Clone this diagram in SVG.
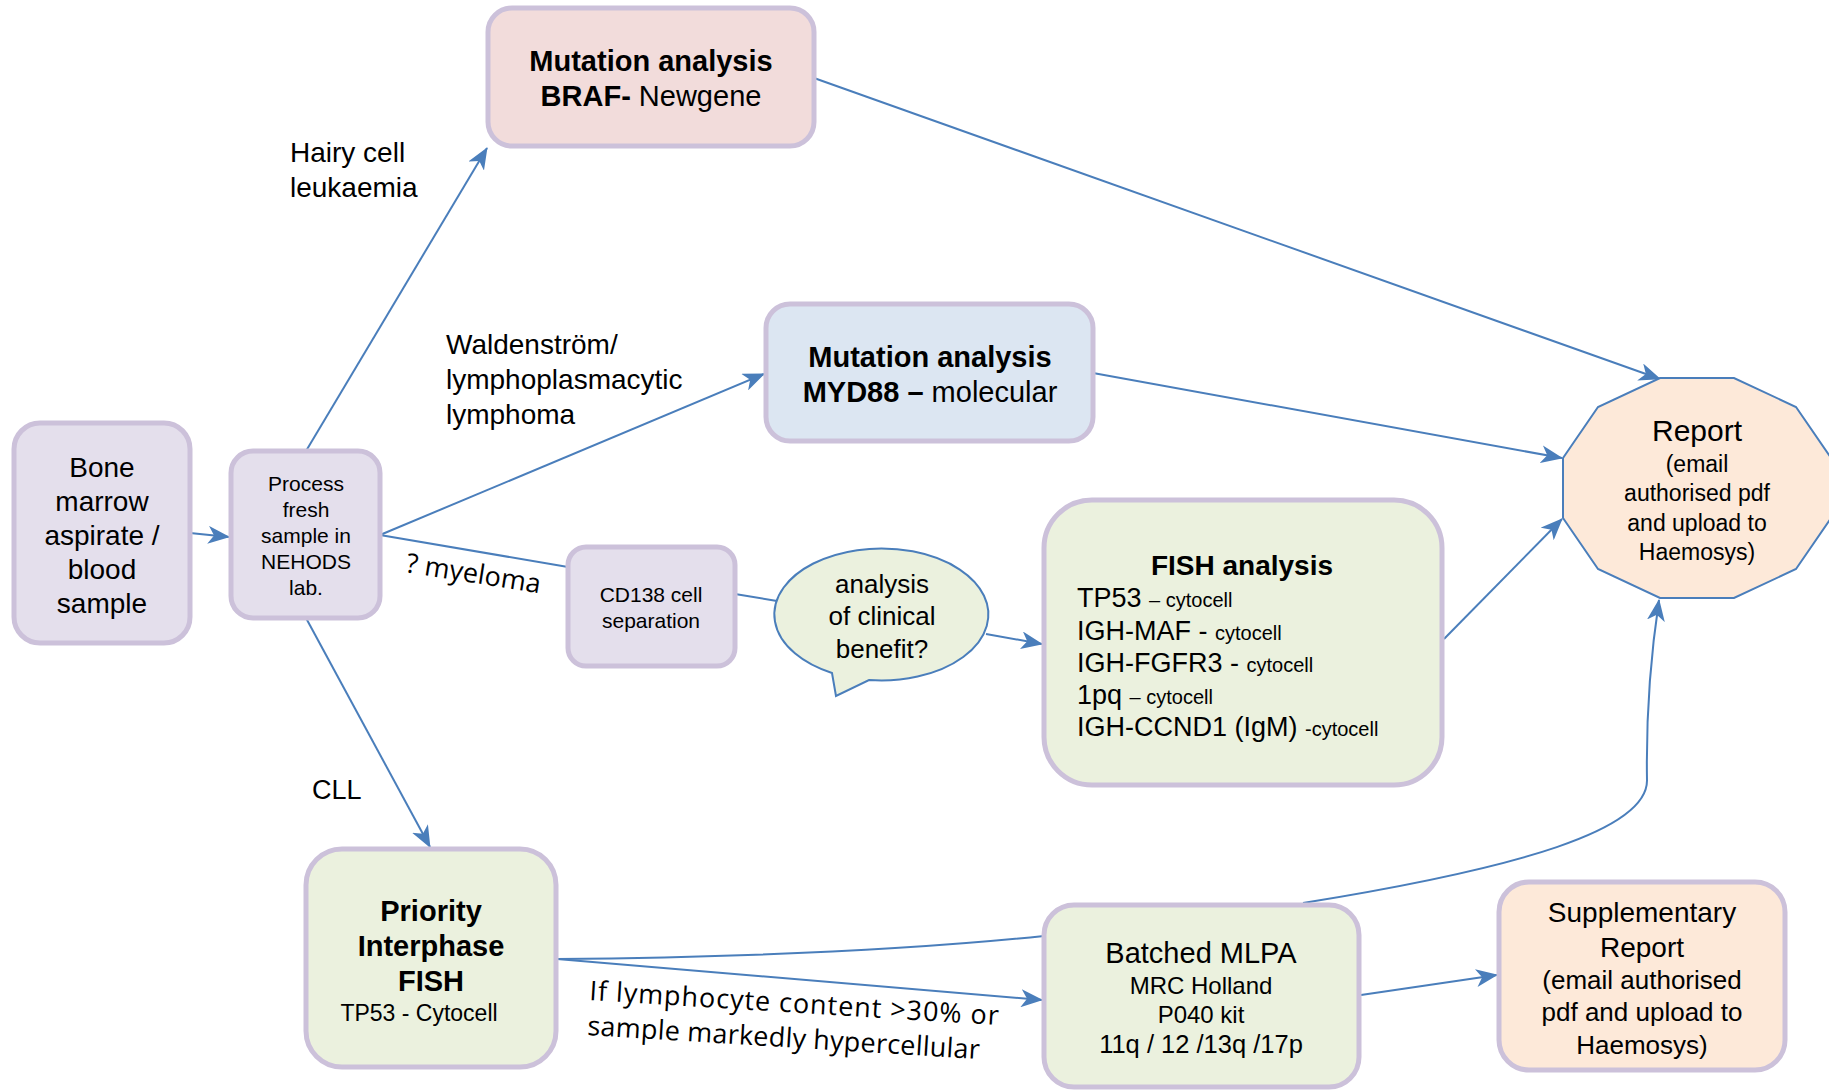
<svg xmlns="http://www.w3.org/2000/svg" width="1829" height="1090" viewBox="0 0 1829 1090">
<defs>
<marker id="arr" viewBox="0 0 22 18" refX="21" refY="9" markerWidth="22" markerHeight="18" markerUnits="userSpaceOnUse" orient="auto">
<path d="M0,0 L22,9 L0,18 L6,9 z" fill="#4a7ebb"/>
</marker>
<style>
.box{stroke:#ccc1da;stroke-width:5}
.lav{fill:#e4dfec}
.pink{fill:#f2dcdb}
.blue{fill:#dce6f2}
.green{fill:#ebf1de}
.peach{fill:#fde9d9}
.t{font-family:"Liberation Sans",Arial,sans-serif;fill:#000}
.o{font-family:"Open Sans","Liberation Sans",sans-serif;fill:#000}
.c{text-anchor:middle}
.b{font-weight:bold}
.ln{fill:none;stroke:#4a7ebb;stroke-width:2}
</style>
</defs>
<rect width="1829" height="1090" fill="#fff"/>
<g id="connectors">
<line class="ln" x1="190" y1="533" x2="229" y2="537" marker-end="url(#arr)"/>
<line class="ln" x1="306" y1="451" x2="487" y2="148" marker-end="url(#arr)"/>
<line class="ln" x1="380" y1="535" x2="764" y2="374" marker-end="url(#arr)"/>
<line class="ln" x1="380" y1="535" x2="568" y2="567"/>
<line class="ln" x1="735" y1="594" x2="777" y2="601"/>
<line class="ln" x1="986" y1="634" x2="1042" y2="644" marker-end="url(#arr)"/>
<line class="ln" x1="306" y1="618" x2="430" y2="847" marker-end="url(#arr)"/>
<line class="ln" x1="814" y1="78" x2="1660" y2="379" marker-end="url(#arr)"/>
<line class="ln" x1="1093" y1="373" x2="1562" y2="458" marker-end="url(#arr)"/>
<line class="ln" x1="1444" y1="639" x2="1562" y2="519" marker-end="url(#arr)"/>
<line class="ln" x1="557" y1="959" x2="1042" y2="1000" marker-end="url(#arr)"/>
<path class="ln" d="M557,959 C760,957 930,948 1044,936"/>
<path class="ln" d="M1303,903 C1520,868 1648,830 1647,780 C1646,720 1650,660 1659,600" marker-end="url(#arr)"/>
<line class="ln" x1="1361" y1="995" x2="1497" y2="975" marker-end="url(#arr)"/>
</g>
<g id="labels">
<text class="t" font-size="28" x="290" y="162">Hairy cell</text>
<text class="t" font-size="28" x="290" y="197">leukaemia</text>
<text class="t" font-size="28" x="446" y="354">Waldenström/</text>
<text class="t" font-size="28" x="446" y="389">lymphoplasmacytic</text>
<text class="t" font-size="28" x="446" y="424">lymphoma</text>
<text class="t" font-size="27" x="312" y="799">CLL</text>
<text class="o" font-size="27" x="405" y="572" transform="rotate(9 405 572)" textLength="136">? myeloma</text>
<text class="o" font-size="27" x="589" y="1000" transform="rotate(3.5 589 1000)" textLength="410">If lymphocyte content &gt;30% or</text>
<text class="o" font-size="27" x="587" y="1035" transform="rotate(3.5 587 1035)" textLength="393">sample markedly hypercellular</text>
</g>
<g id="bone">
<rect class="box lav" x="14" y="423" width="176" height="220" rx="26"/>
<text class="t c" font-size="28" x="102" y="477">Bone</text>
<text class="t c" font-size="28" x="102" y="511">marrow</text>
<text class="t c" font-size="28" x="102" y="545">aspirate /</text>
<text class="t c" font-size="28" x="102" y="579">blood</text>
<text class="t c" font-size="28" x="102" y="613">sample</text>
</g>
<g id="process">
<rect class="box lav" x="231" y="451" width="149" height="167" rx="22"/>
<text class="t c" font-size="21" x="306" y="491">Process</text>
<text class="t c" font-size="21" x="306" y="517">fresh</text>
<text class="t c" font-size="21" x="306" y="543">sample in</text>
<text class="t c" font-size="21" x="306" y="569">NEHODS</text>
<text class="t c" font-size="21" x="306" y="595">lab.</text>
</g>
<g id="braf">
<rect class="box pink" x="488" y="8" width="326" height="138" rx="24"/>
<text class="t c b" font-size="29" x="651" y="71">Mutation analysis</text>
<text class="t c" font-size="29" x="651" y="106"><tspan class="b">BRAF-</tspan> Newgene</text>
</g>
<g id="myd88">
<rect class="box blue" x="766" y="304" width="327" height="137" rx="24"/>
<text class="t c b" font-size="29" x="930" y="367">Mutation analysis</text>
<text class="t c" font-size="29" x="930" y="402"><tspan class="b">MYD88 –</tspan> molecular</text>
</g>
<g id="cd138">
<rect class="box lav" x="568" y="547" width="167" height="119" rx="18"/>
<text class="t c" font-size="21" x="651" y="602">CD138 cell</text>
<text class="t c" font-size="21" x="651" y="628">separation</text>
</g>
<g id="bubble">
<path d="M869,680 A107,66 0 1 0 832,673 L836,696 Z" fill="#ebf1de" stroke="#4a7ebb" stroke-width="2"/>
<text class="t c" font-size="26" x="882" y="593">analysis</text>
<text class="t c" font-size="26" x="882" y="625">of clinical</text>
<text class="t c" font-size="26" x="882" y="658">benefit?</text>
</g>
<g id="fish">
<rect class="box green" x="1044" y="500" width="398" height="285" rx="48"/>
<text class="t c b" font-size="28" x="1242" y="575">FISH analysis</text>
<text class="t" font-size="27" x="1077" y="607">TP53 <tspan font-size="20">– cytocell</tspan></text>
<text class="t" font-size="27" x="1077" y="640">IGH-MAF - <tspan font-size="20">cytocell</tspan></text>
<text class="t" font-size="27" x="1077" y="672">IGH-FGFR3 - <tspan font-size="20">cytocell</tspan></text>
<text class="t" font-size="27" x="1077" y="704">1pq <tspan font-size="20">– cytocell</tspan></text>
<text class="t" font-size="27" x="1077" y="736">IGH-CCND1 (IgM) <tspan font-size="20">-cytocell</tspan></text>
</g>
<g id="report">
<polygon points="1660,378 1734,378 1796,407 1831,458 1831,518 1796,569 1734,598 1660,598 1598,569 1563,518 1563,458 1598,407" fill="#fde9d9" stroke="#4a7ebb" stroke-width="2"/>
<text class="t c" font-size="30" x="1697" y="441">Report</text>
<text class="t c" font-size="23" x="1697" y="472">(email</text>
<text class="t c" font-size="23" x="1697" y="501">authorised pdf</text>
<text class="t c" font-size="23" x="1697" y="531">and upload to</text>
<text class="t c" font-size="23" x="1697" y="560">Haemosys)</text>
</g>
<g id="priority">
<rect class="box green" x="306" y="849" width="250" height="218" rx="36"/>
<text class="t c b" font-size="29" x="431" y="921">Priority</text>
<text class="t c b" font-size="29" x="431" y="956">Interphase</text>
<text class="t c b" font-size="29" x="431" y="991">FISH</text>
<text class="t c" font-size="23" x="419" y="1021">TP53 - Cytocell</text>
</g>
<g id="mlpa">
<rect class="box green" x="1044" y="905" width="315" height="182" rx="30"/>
<text class="t c" font-size="29" x="1201" y="963">Batched MLPA</text>
<text class="t c" font-size="24" x="1201" y="994">MRC Holland</text>
<text class="t c" font-size="24" x="1201" y="1023">P040 kit</text>
<text class="t c" font-size="25.5" x="1201" y="1053">11q / 12 /13q /17p</text>
</g>
<g id="supp">
<rect class="box peach" x="1499" y="882" width="286" height="188" rx="30"/>
<text class="t c" font-size="28" x="1642" y="922">Supplementary</text>
<text class="t c" font-size="28" x="1642" y="957">Report</text>
<text class="t c" font-size="26" x="1642" y="989">(email authorised</text>
<text class="t c" font-size="26" x="1642" y="1021">pdf and upload to</text>
<text class="t c" font-size="26" x="1642" y="1054">Haemosys)</text>
</g>
</svg>
